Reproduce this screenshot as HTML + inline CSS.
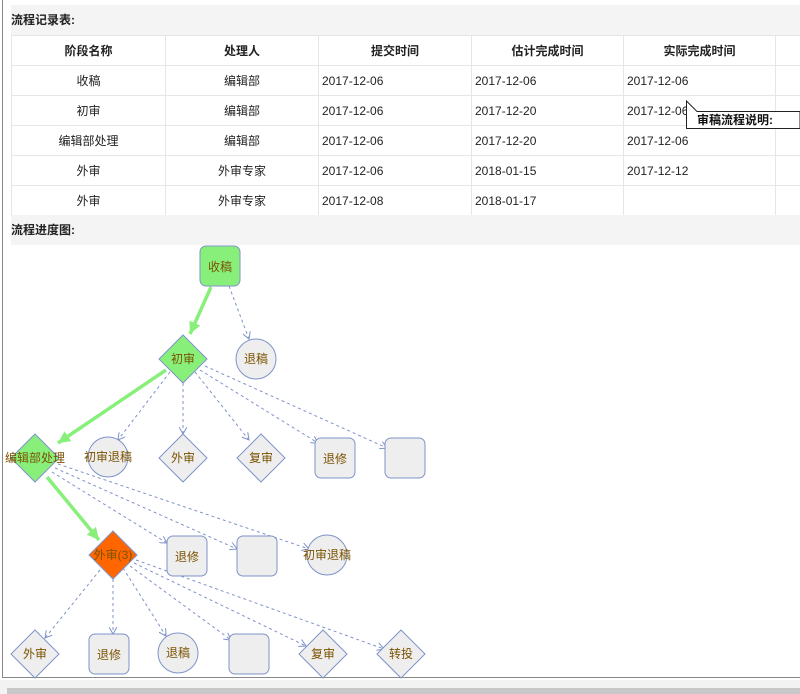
<!DOCTYPE html>
<html><head><meta charset="utf-8"><style>
body{margin:0;width:800px;height:694px;overflow:hidden;background:#fff;font-family:"Liberation Sans","Noto Sans CJK SC",sans-serif;font-size:12px;color:#222;position:relative}
.frame{position:absolute;left:2px;top:0;width:800px;height:677px;border-left:1px solid #888;border-bottom:1px solid #888}
.band{position:absolute;left:11px;width:789px;height:30px;background:#f4f4f4;font-weight:bold;line-height:30px}
table{position:absolute;left:11px;top:35px;border-collapse:collapse;table-layout:fixed;width:920px}
td{border:1px solid #e6e6e6;height:29px;padding:0;overflow:hidden;white-space:nowrap}
td.c{text-align:center}
td.l{padding-left:3px}
</style></head><body>
<div class="frame"></div>
<div class="band" style="top:5px">流程记录表:</div>
<table>
<colgroup><col style="width:154px"><col style="width:153px"><col style="width:153px"><col style="width:152px"><col style="width:152px"><col style="width:156px"></colgroup>
<tr style="font-weight:bold"><td class="c">阶段名称</td><td class="c">处理人</td><td class="c">提交时间</td><td class="c">估计完成时间</td><td class="c">实际完成时间</td><td></td></tr>
<tr><td class="c">收稿</td><td class="c">编辑部</td><td class="l">2017-12-06</td><td class="l">2017-12-06</td><td class="l">2017-12-06</td><td></td></tr>
<tr><td class="c">初审</td><td class="c">编辑部</td><td class="l">2017-12-06</td><td class="l">2017-12-20</td><td class="l">2017-12-06</td><td></td></tr>
<tr><td class="c">编辑部处理</td><td class="c">编辑部</td><td class="l">2017-12-06</td><td class="l">2017-12-20</td><td class="l">2017-12-06</td><td></td></tr>
<tr><td class="c">外审</td><td class="c">外审专家</td><td class="l">2017-12-06</td><td class="l">2018-01-15</td><td class="l">2017-12-12</td><td></td></tr>
<tr><td class="c">外审</td><td class="c">外审专家</td><td class="l">2017-12-08</td><td class="l">2018-01-17</td><td class="l"></td><td></td></tr>
</table>
<div class="band" style="top:215px">流程进度图:</div>
<svg style="position:absolute;left:0;top:0" width="800" height="694">
<defs>
<marker id="a" markerWidth="8" markerHeight="8" refX="7" refY="4" orient="auto" markerUnits="userSpaceOnUse"><path d="M0,0 L7,4 L0,8" fill="none" stroke="#7f93c9" stroke-width="1"/></marker>
<marker id="g" markerWidth="14" markerHeight="14" refX="12" refY="6" orient="auto" markerUnits="userSpaceOnUse"><path d="M0,0 L12,6 L0,12 z" fill="#88f07a"/></marker>
</defs>
<!-- tooltip -->
<path d="M686.5,101 L697,111.5 L800,111.5 L800,128.5 L686.5,128.5 z" fill="#fff" stroke="#222"/>
<text x="697" y="124" font-size="12" font-weight="bold" fill="#111">审稿流程说明:</text>
<g stroke="#7f93c9" stroke-width="1" stroke-dasharray="3,3" fill="none" marker-end="url(#a)">
<path d="M229,286 L249,339"/>
<path d="M170,372 L118,440"/><path d="M183,383 L183,434"/><path d="M195,372 L249,440"/><path d="M200,370 L318,443"/><path d="M205,366 L387,448"/>
<path d="M52,472 L167,543"/><path d="M55,468 L237,549"/><path d="M58,464 L309,549"/>
<path d="M100,570 L45,638"/><path d="M113,579 L113,634"/><path d="M123,568 L166,636"/><path d="M130,566 L231,640"/><path d="M134,563 L306,646"/><path d="M136,560 L384,649"/>
</g>
<g stroke="#88f07a" stroke-width="3.5" fill="none" marker-end="url(#g)">
<path d="M211,287 L190,334"/><path d="M166,370 L58,443"/><path d="M47,477 L99,540"/>
</g>
<g stroke="#7f93c9" stroke-width="1" fill="#eeeeee">
<rect x="200" y="246" width="40" height="40" rx="6" fill="#88f07a"/>
<circle cx="256" cy="359" r="20"/>
<path d="M183,335 L207,359 L183,383 L159,359 z" fill="#88f07a"/>
<path d="M35,434 L59,458 L35,482 L11,458 z" fill="#88f07a"/>
<circle cx="108" cy="457" r="20"/>
<path d="M183,434 L207,458 L183,482 L159,458 z"/>
<path d="M261,434 L285,458 L261,482 L237,458 z"/>
<rect x="315" y="438" width="40" height="40" rx="6"/>
<rect x="385" y="438" width="40" height="40" rx="6"/>
<path d="M113,531 L137,555 L113,579 L89,555 z" fill="#ff6600"/>
<rect x="167" y="536" width="40" height="40" rx="6"/>
<rect x="237" y="536" width="40" height="40" rx="6"/>
<circle cx="327" cy="555" r="20"/>
<path d="M35,630 L59,654 L35,678 L11,654 z"/>
<rect x="89" y="634" width="40" height="40" rx="6"/>
<circle cx="178" cy="653" r="20"/>
<rect x="229" y="634" width="40" height="40" rx="6"/>
<path d="M323,630 L347,654 L323,678 L299,654 z"/>
<path d="M401,630 L425,654 L401,678 L377,654 z"/>
</g>
<g font-size="12" fill="#7a5200" text-anchor="middle">
<text x="220" y="271">收稿</text><text x="256" y="363">退稿</text><text x="183" y="363">初审</text>
<text x="35" y="462">编辑部处理</text><text x="108" y="461">初审退稿</text><text x="183" y="462">外审</text><text x="261" y="462">复审</text><text x="335" y="463">退修</text>
<text x="113" y="559">外审(3)</text><text x="187" y="561">退修</text><text x="327" y="559">初审退稿</text>
<text x="35" y="658">外审</text><text x="109" y="659">退修</text><text x="178" y="657">退稿</text><text x="323" y="658">复审</text><text x="401" y="658">转投</text>
</g>
<rect x="0" y="680" width="800" height="14" fill="#f2f2f2"/>
<rect x="7" y="688" width="793" height="6" fill="#c8c8c8"/>
</svg>
</body></html>
